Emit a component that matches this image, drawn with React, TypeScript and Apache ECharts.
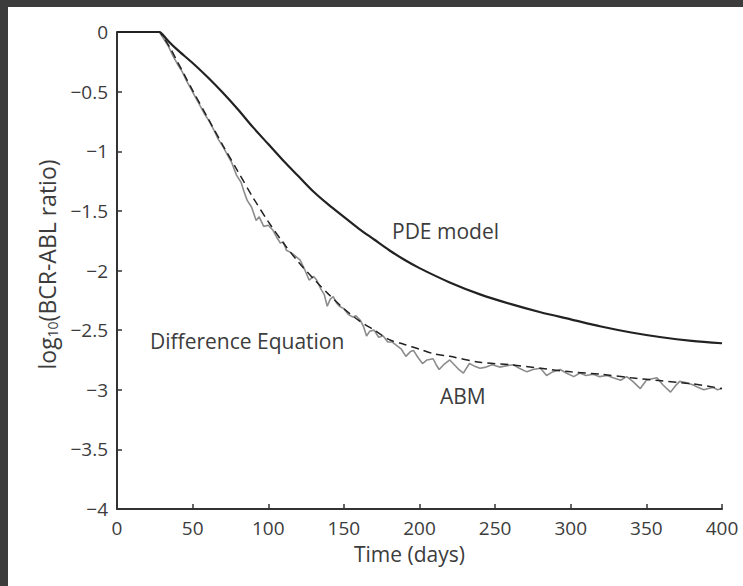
import React, { useEffect, useRef } from "react";
import * as echarts from "echarts";

const xTicks = [0, 50, 100, 150, 200, 250, 300, 350, 400];
const yTicks = [0, -0.5, -1, -1.5, -2, -2.5, -3, -3.5, -4];

const pdeDays = [0, 28, 30, 35, 40, 50, 60, 70, 80, 90, 100, 110, 120, 130, 140, 150, 160, 170, 180, 190, 200, 220, 240, 260, 280, 300, 320, 340, 360, 380, 400];
const pdeVals = [0, 0, -0.02, -0.09, -0.15, -0.26, -0.38, -0.51, -0.65, -0.8, -0.94, -1.08, -1.21, -1.34, -1.45, -1.55, -1.65, -1.74, -1.83, -1.91, -1.98, -2.1, -2.2, -2.28, -2.35, -2.41, -2.47, -2.52, -2.56, -2.59, -2.61];

const diffDays = [0, 28, 30, 35, 40, 45, 50, 60, 70, 80, 90, 100, 110, 120, 130, 140, 150, 160, 170, 180, 190, 200, 210, 220, 240, 260, 280, 300, 320, 340, 360, 380, 400];
const diffVals = [0, 0, -0.03, -0.13, -0.25, -0.37, -0.49, -0.72, -0.95, -1.17, -1.39, -1.59, -1.77, -1.93, -2.07, -2.2, -2.32, -2.42, -2.5, -2.58, -2.62, -2.66, -2.7, -2.72, -2.77, -2.79, -2.82, -2.85, -2.87, -2.9, -2.925, -2.95, -2.99];

const abmDays = [0, 28, 31, 34, 37, 40, 43, 46, 49, 52, 55, 58, 61, 64, 67, 70, 73, 76, 79, 82, 84, 86, 89, 92, 94, 97, 100, 103, 106, 108, 110, 112, 115, 118, 121, 124, 127, 130, 132, 135, 137, 139, 141, 143, 145, 147, 150, 153, 156, 158, 161, 163, 165, 167, 170, 173, 176, 179, 182, 185, 188, 191, 194, 196, 199, 202, 205, 209, 211, 213, 216, 220, 223, 226, 229, 233, 236, 240, 244, 248, 253, 257, 262, 266, 271, 275, 280, 284, 288, 293, 297, 302, 306, 310, 315, 319, 324, 328, 333, 337, 341, 346, 350, 353, 357, 361, 366, 369, 372, 376, 381, 384, 388, 391, 394, 397, 400];
const abmVals = [0, 0, -0.06, -0.12, -0.2, -0.27, -0.33, -0.41, -0.48, -0.55, -0.62, -0.69, -0.75, -0.82, -0.9, -0.96, -1.03, -1.1, -1.2, -1.26, -1.34, -1.41, -1.47, -1.58, -1.55, -1.63, -1.62, -1.66, -1.73, -1.77, -1.76, -1.83, -1.85, -1.88, -1.91, -1.99, -2.08, -2.05, -2.08, -2.16, -2.2, -2.3, -2.24, -2.22, -2.27, -2.3, -2.32, -2.37, -2.39, -2.38, -2.42, -2.47, -2.55, -2.51, -2.5, -2.56, -2.55, -2.6, -2.6, -2.63, -2.66, -2.72, -2.68, -2.67, -2.73, -2.78, -2.75, -2.74, -2.79, -2.83, -2.79, -2.75, -2.79, -2.83, -2.86, -2.78, -2.8, -2.82, -2.81, -2.79, -2.81, -2.8, -2.79, -2.82, -2.85, -2.83, -2.82, -2.88, -2.85, -2.83, -2.86, -2.89, -2.86, -2.88, -2.87, -2.89, -2.88, -2.9, -2.92, -2.89, -2.93, -2.99, -2.92, -2.91, -2.9, -2.96, -3.02, -2.97, -2.93, -2.94, -2.96, -2.98, -3.0, -2.99, -2.98, -3.0, -2.99];

const labelPDE = "PDE model";
const labelDiff = "Difference Equation";
const labelABM = "ABM";
const xName = "Time (days)";

const pair = (xs: number[], ys: number[]) => xs.map((x, i) => [x, ys[i]]);
const fmt = (v: number) => String(v).replace("-", "\u2212");

const FONT = "'Open Sans', 'Noto Sans', sans-serif";
const TXT = "#3c3c3c";

export default function App() {
  const ref = useRef<HTMLDivElement>(null);
  useEffect(() => {
    if (!ref.current) return;
    const chart = echarts.init(ref.current, undefined, { renderer: "svg" });
    chart.setOption({
      animation: false,
      backgroundColor: "#3c3c3c",
      graphic: [
        { type: "rect", z: -10, shape: { x: 8, y: 7, width: 735, height: 579 }, style: { fill: "#ffffff" }, silent: true },
        { type: "text", x: 150, y: 341, style: { text: labelDiff, fontSize: 21, fontFamily: FONT, fill: TXT, verticalAlign: "middle" } },
        { type: "text", x: 392, y: 231, style: { text: labelPDE, fontSize: 21, fontFamily: FONT, fill: TXT, verticalAlign: "middle" } },
        { type: "text", x: 440, y: 396, style: { text: labelABM, fontSize: 21, fontFamily: FONT, fill: TXT, verticalAlign: "middle" } },
      ],
      grid: { left: 117, top: 32, right: 21, bottom: 77, containLabel: false },
      xAxis: {
        type: "value",
        min: 0,
        max: 400,
        interval: 50,
        name: xName,
        nameLocation: "middle",
        nameGap: 34,
        nameTextStyle: { fontSize: 21, fontFamily: FONT, color: TXT, padding: [0, 20, 0, 0] },
        axisLine: { show: true, onZero: false, lineStyle: { color: "#333", width: 2 } },
        axisTick: { show: true, inside: true, length: 5, lineStyle: { color: "#333", width: 1.5 } },
        axisLabel: { fontSize: 19, fontFamily: FONT, color: TXT, margin: 9, formatter: (v: number) => (xTicks.includes(v) ? fmt(v) : "") },
        splitLine: { show: false },
      },
      yAxis: {
        type: "value",
        min: -4,
        max: 0,
        interval: 0.5,
        name: "log{sub|10}(BCR-ABL ratio)",
        nameLocation: "middle",
        nameGap: 53,
        nameRotate: 90,
        nameTextStyle: {
          fontSize: 23,
          fontFamily: FONT,
          color: TXT,
          padding: [0, 0, 0, 12],
          rich: { sub: { fontSize: 14, fontFamily: FONT, color: TXT, verticalAlign: "bottom", padding: [11, 0, 0, 0] } },
        },
        axisLine: { show: true, onZero: false, lineStyle: { color: "#333", width: 2 } },
        axisTick: { show: true, inside: true, length: 5, lineStyle: { color: "#333", width: 1.5 } },
        axisLabel: { fontSize: 19, fontFamily: FONT, color: TXT, margin: 9, formatter: (v: number) => (yTicks.includes(v) ? fmt(v) : "") },
        splitLine: { show: false },
      },
      series: [
        {
          type: "line",
          name: "ABM",
          data: pair(abmDays, abmVals),
          showSymbol: false,
          lineStyle: { color: "#8c8c8c", width: 1.6 },
          z: 2,
        },
        {
          type: "line",
          name: "Difference Equation",
          data: pair(diffDays, diffVals),
          showSymbol: false,
          smooth: 0.3,
          lineStyle: { color: "#222", width: 1.5, type: [8, 5] },
          z: 3,
        },
        {
          type: "line",
          name: "PDE model",
          data: pair(pdeDays, pdeVals),
          showSymbol: false,
          smooth: 0.3,
          lineStyle: { color: "#222", width: 2.2 },
          z: 4,
        },
      ],
    });
    return () => chart.dispose();
  }, []);
  return <div ref={ref} style={{ position: "fixed", left: 0, top: 0, width: 743, height: 586 }} />;
}
